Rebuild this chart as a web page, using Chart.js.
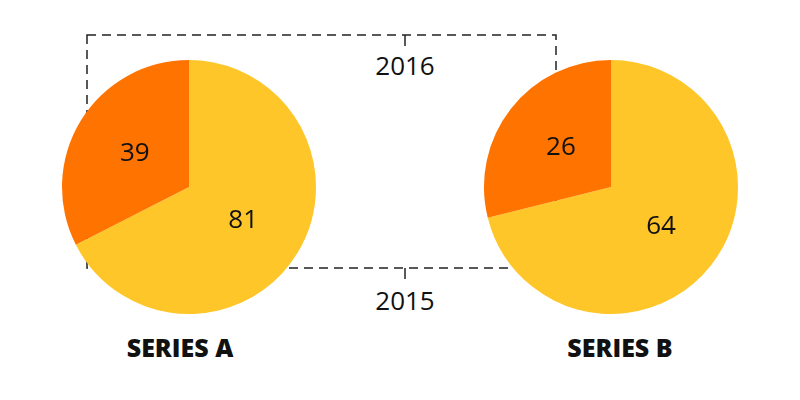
<!DOCTYPE html>
<html>
<head>
<meta charset="utf-8">
<script src="https://cdn.jsdelivr.net/npm/chart.js@4"></script>
<style>
  body { margin:0; background:#fff; font-family: "Open Sans", sans-serif; }
  #wrap { position:relative; width:800px; height:400px; }
  .pie { position:absolute; top:58px; width:258px; height:258px; }
  .lbl { position:absolute; font-size:26px; color:#111; transform:translateX(-50%); }
  .title { position:absolute; font-size:25px; font-weight:800; color:#111; transform:translateX(-50%); top:330px; }
</style>
</head>
<body>
<div id="wrap">
  <svg width="800" height="400" style="position:absolute;left:0;top:0">
    <g fill="none" stroke="#222" stroke-width="1.5" stroke-dasharray="9 6">
      <rect x="87" y="35" width="469" height="233"/>
    </g>
    <line x1="405" y1="35" x2="405" y2="46" stroke="#222" stroke-width="1.5"/>
    <line x1="405" y1="268" x2="405" y2="279" stroke="#222" stroke-width="1.5"/>
  </svg>
  <div class="lbl" style="left:405px;top:47px">2016</div>
  <div class="lbl" style="left:405px;top:282px">2015</div>
  <div class="pie" style="left:60px"><canvas id="pa"></canvas></div>
  <div class="pie" style="left:482px"><canvas id="pb"></canvas></div>
  <div class="title" style="left:180px">SERIES A</div>
  <div class="title" style="left:620px">SERIES B</div>
</div>
<script>
const categories = ["2015", "2016"];
const seriesA = [81, 39];
const seriesB = [64, 26];
const colors = ["#FFC629", "#FF7300"];

const valueLabels = {
  id: 'valueLabels',
  afterDatasetsDraw(chart) {
    const ctx = chart.ctx;
    const meta = chart.getDatasetMeta(0);
    ctx.save();
    ctx.font = '500 26px "Open Sans", sans-serif';
    ctx.fillStyle = '#111';
    ctx.textAlign = 'center';
    ctx.textBaseline = 'middle';
    meta.data.forEach((arc, i) => {
      const p = arc.getCenterPoint();
      ctx.fillText(chart.data.datasets[0].data[i], p.x, p.y);
    });
    ctx.restore();
  }
};

function makePie(id, values) {
  new Chart(document.getElementById(id), {
    type: 'pie',
    data: { labels: categories, datasets: [{ data: values, backgroundColor: colors, borderWidth: 0 }] },
    options: {
      responsive: true, maintainAspectRatio: false, animation: false,
      layout: { padding: 2 },
      plugins: { legend: { display: false }, tooltip: { enabled: false } }
    },
    plugins: [valueLabels]
  });
}
makePie('pa', seriesA);
makePie('pb', seriesB);
</script>
</body>
</html>
